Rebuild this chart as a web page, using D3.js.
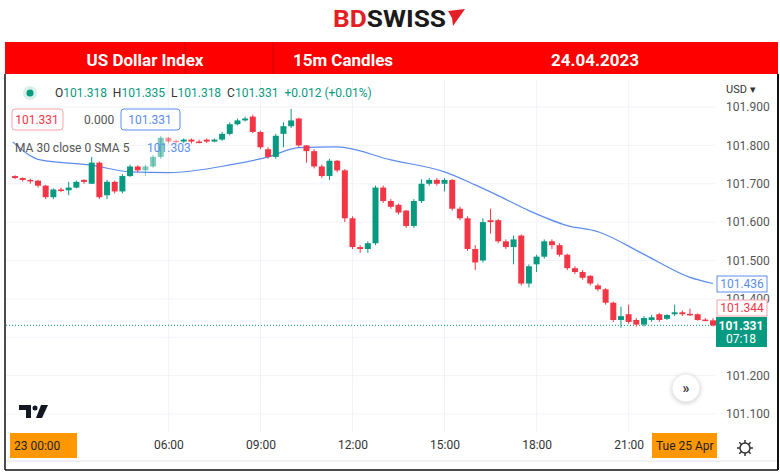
<!DOCTYPE html>
<html>
<head>
<meta charset="utf-8">
<script src="https://cdn.jsdelivr.net/npm/d3@7"></script>
<style>
body { margin: 0; background: #fff; }
text { font-family: Roboto, "Noto Sans", sans-serif; }
</style>
</head>
<body>
<svg id="chart" width="780" height="475"></svg>
<script>
// candle opens / closes (15m, starting 01:00)
var opens = [101.72,101.715,101.71,101.708,101.695,101.665,101.685,101.683,101.69,101.71,
  101.70,101.755,101.67,101.705,101.68,101.72,101.745,101.735,101.745,101.77,
  101.82,101.812,101.81,101.815,101.81,101.815,101.81,101.815,101.83,101.855,
  101.865,101.875,101.835,101.79,101.77,101.83,101.85,101.87,101.80,101.785,
  101.745,101.72,101.76,101.735,101.61,101.535,101.53,101.545,101.69,101.655,
  101.645,101.63,101.59,101.655,101.70,101.71,101.70,101.71,101.635,101.61,
  101.53,101.50,101.605,101.605,101.55,101.535,101.565,101.44,101.49,101.51,
  101.55,101.54,101.515,101.48,101.47,101.46,101.435,101.425,101.39,101.345,
  101.36,101.345,101.333,101.345,101.36,101.348,101.36,101.365,101.361,101.36,
  101.346,101.344];
var closes = [101.715,101.71,101.708,101.695,101.665,101.685,101.683,101.69,101.705,101.705,
  101.755,101.665,101.705,101.68,101.72,101.745,101.735,101.745,101.77,101.82,
  101.81,101.81,101.815,101.81,101.809,101.81,101.815,101.83,101.855,101.865,
  101.87,101.835,101.795,101.77,101.825,101.85,101.865,101.80,101.785,101.745,
  101.72,101.76,101.735,101.61,101.535,101.53,101.545,101.69,101.655,101.64,
  101.625,101.59,101.655,101.70,101.71,101.70,101.71,101.635,101.61,101.53,
  101.495,101.60,101.60,101.55,101.535,101.555,101.44,101.485,101.51,101.55,
  101.54,101.515,101.48,101.47,101.455,101.44,101.425,101.39,101.345,101.355,
  101.34,101.333,101.35,101.352,101.345,101.358,101.365,101.36,101.36,101.345,
  101.345,101.331];
var highs = [101.722,101.717,101.713,101.71,101.697,101.688,101.69,101.705,101.708,101.712,
  101.77,101.758,101.71,101.708,101.725,101.75,101.748,101.75,101.775,101.825,
  101.822,101.815,101.818,101.818,101.815,101.818,101.818,101.835,101.86,101.87,
  101.875,101.88,101.838,101.795,101.83,101.86,101.895,101.872,101.80,101.79,
  101.75,101.765,101.762,101.738,101.615,101.54,101.55,101.695,101.695,101.66,
  101.648,101.632,101.66,101.712,101.715,101.715,101.715,101.712,101.64,101.615,
  101.54,101.61,101.635,101.608,101.555,101.565,101.568,101.49,101.515,101.555,
  101.555,101.545,101.518,101.485,101.475,101.462,101.44,101.428,101.393,101.38,
  101.385,101.35,101.355,101.358,101.363,101.36,101.385,101.37,101.375,101.362,
  101.35,101.35];
var lows = [101.712,101.706,101.70,101.69,101.66,101.66,101.678,101.67,101.688,101.70,
  101.70,101.66,101.66,101.675,101.675,101.718,101.73,101.72,101.742,101.765,
  101.805,101.805,101.806,101.805,101.805,101.806,101.808,101.812,101.826,101.852,
  101.862,101.832,101.79,101.765,101.765,101.795,101.845,101.795,101.755,101.74,
  101.715,101.71,101.73,101.60,101.53,101.52,101.52,101.54,101.65,101.635,
  101.62,101.585,101.585,101.65,101.695,101.695,101.68,101.63,101.605,101.525,
  101.475,101.495,101.57,101.545,101.53,101.49,101.435,101.43,101.47,101.505,
  101.53,101.51,101.475,101.465,101.45,101.435,101.42,101.385,101.34,101.325,
  101.335,101.328,101.328,101.34,101.34,101.345,101.355,101.355,101.355,101.343,
  101.343,101.328];
// MA 30 read at candle positions
var maIdx = [-0.3,3.3,9.8,15,20,28,33,37,42,49,56,60,63,67,72,76,82,88,91];
var maVal = [101.809,101.762,101.749,101.731,101.729,101.749,101.770,101.794,101.796,101.762,
  101.731,101.697,101.669,101.630,101.591,101.575,101.516,101.456,101.440];
var priceTicks = [101.1,101.2,101.4,101.5,101.6,101.7,101.8,101.9];
var timeTicks = [20,32,44,56,68,80];
var timeLabels = ["06:00","09:00","12:00","15:00","18:00","21:00"];

var up = "#089981", down = "#f23645", maColor = "#5b8def";
var svg = d3.select("#chart");

var x = d3.scaleLinear().domain([0, 91]).range([15, 713]);
var y = d3.scaleLinear().domain([101.1, 101.9]).range([414, 107]);

// logo
var logo = svg.append("text").attr("x", 333).attr("y", 27).attr("font-size", 23).attr("font-weight", "bold")
  .attr("textLength", 113).attr("lengthAdjust", "spacingAndGlyphs");
logo.append("tspan").attr("fill", "#e31e24").text("BD");
logo.append("tspan").attr("fill", "#1a1a1a").text("SWISS");
svg.append("path").attr("d", "M448,11 L465,9 L453,26 L452,18 Z").attr("fill", "#e31e24");

// header bar
svg.append("rect").attr("x", 5).attr("y", 42).attr("width", 773).attr("height", 32).attr("fill", "#ff0000");
[185, 273].forEach(function (d) {
  svg.append("line").attr("x1", d).attr("x2", d).attr("y1", 42).attr("y2", 74).attr("stroke", "#d00000");
});
[["US Dollar Index", 145], ["15m Candles", 343], ["24.04.2023", 595]].forEach(function (d) {
  svg.append("text").attr("x", d[1]).attr("y", 66).attr("text-anchor", "middle")
    .attr("fill", "#fff").attr("font-size", 17).attr("font-weight", "bold").text(d[0]);
});

// panel borders
svg.append("line").attr("x1", 778).attr("x2", 778).attr("y1", 74).attr("y2", 470).attr("stroke", "#111").attr("stroke-width", 2);
svg.append("line").attr("x1", 5).attr("x2", 5).attr("y1", 74).attr("y2", 470).attr("stroke", "#111").attr("stroke-width", 1.5);
svg.append("line").attr("x1", 5).attr("x2", 778).attr("y1", 470).attr("y2", 470).attr("stroke", "#111").attr("stroke-width", 1.5);

// grid
svg.append("g").selectAll("line").data(priceTicks.concat([101.3])).join("line")
  .attr("x1", 6).attr("x2", 715).attr("y1", function (d) { return y(d); }).attr("y2", function (d) { return y(d); })
  .attr("stroke", "#f0f3fa");
svg.append("g").selectAll("line").data(timeTicks).join("line")
  .attr("x1", function (d) { return x(d); }).attr("x2", function (d) { return x(d); })
  .attr("y1", 80).attr("y2", 432).attr("stroke", "#f0f3fa");

// right axis
var yAxis = d3.axisRight(y).tickValues(priceTicks).tickFormat(d3.format(".3f")).tickSize(0).tickPadding(0);
var ya = svg.append("g").attr("transform", "translate(726,0)").call(yAxis);
ya.select(".domain").remove();
ya.selectAll("text").attr("font-size", 12).attr("fill", "#555");
svg.append("text").attr("x", 726).attr("y", 93).attr("font-size", 11).attr("fill", "#333").text("USD ▾");

// bottom axis
var xAxis = d3.axisBottom(x).tickValues(timeTicks).tickFormat(function (d, i) { return timeLabels[i]; }).tickSize(0).tickPadding(0);
var xa = svg.append("g").attr("transform", "translate(0,440)").call(xAxis);
xa.select(".domain").remove();
xa.selectAll("text").attr("font-size", 12).attr("fill", "#333");
svg.append("line").attr("x1", 6).attr("x2", 777).attr("y1", 461).attr("y2", 461).attr("stroke", "#e0e3eb");

// current price dotted line
svg.append("line").attr("x1", 6).attr("x2", 715).attr("y1", y(101.331)).attr("y2", y(101.331))
  .attr("stroke", up).attr("stroke-dasharray", "1,2");

// MA line
svg.append("path").datum(d3.range(maIdx.length))
  .attr("fill", "none").attr("stroke", maColor).attr("stroke-width", 1.2)
  .attr("d", d3.line().x(function (i) { return x(maIdx[i]); }).y(function (i) { return y(maVal[i]); }).curve(d3.curveMonotoneX));

// candles
var idx = d3.range(closes.length);
var cg = svg.append("g");
cg.selectAll("line").data(idx).join("line")
  .attr("x1", function (i) { return x(i); }).attr("x2", function (i) { return x(i); })
  .attr("y1", function (i) { return y(highs[i]); }).attr("y2", function (i) { return y(lows[i]); })
  .attr("stroke", function (i) { return closes[i] >= opens[i] ? up : down; })
  .attr("opacity", function (i) { return i >= 17 && i <= 21 ? 0.5 : 1; });
cg.selectAll("rect").data(idx).join("rect")
  .attr("x", function (i) { return x(i) - 3; }).attr("width", 6)
  .attr("y", function (i) { return y(Math.max(opens[i], closes[i])); })
  .attr("height", function (i) { return Math.max(1.5, Math.abs(y(opens[i]) - y(closes[i]))); })
  .attr("fill", function (i) { return closes[i] >= opens[i] ? up : down; })
  .attr("opacity", function (i) { return i >= 17 && i <= 21 ? 0.5 : 1; });

// legend
svg.append("circle").attr("cx", 30).attr("cy", 93).attr("r", 7).attr("fill", "#d6efe9");
svg.append("circle").attr("cx", 30).attr("cy", 93).attr("r", 3.5).attr("fill", up);
var lg = svg.append("text").attr("x", 55).attr("y", 97).attr("font-size", 12);
[["O", "#333"], ["101.318  ", up], ["H", "#333"], ["101.335  ", up], ["L", "#333"], ["101.318  ", up],
 ["C", "#333"], ["101.331  ", up], ["+0.012 (+0.01%)", up]].forEach(function (d) {
  lg.append("tspan").attr("fill", d[1]).attr("xml:space", "preserve").text(d[0]);
});
svg.append("rect").attr("x", 12).attr("y", 109).attr("width", 51).attr("height", 21).attr("rx", 3)
  .attr("fill", "#fff").attr("stroke", "#f7a3aa");
svg.append("text").attr("x", 37).attr("y", 124).attr("text-anchor", "middle").attr("font-size", 12).attr("fill", down).text("101.331");
svg.append("text").attr("x", 84).attr("y", 124).attr("font-size", 12).attr("fill", "#555").text("0.000");
svg.append("rect").attr("x", 121).attr("y", 109).attr("width", 59).attr("height", 21).attr("rx", 3)
  .attr("fill", "#fff").attr("stroke", maColor);
svg.append("text").attr("x", 150).attr("y", 124).attr("text-anchor", "middle").attr("font-size", 12).attr("fill", maColor).text("101.331");
svg.append("text").attr("x", 15).attr("y", 152).attr("font-size", 12).attr("fill", "#555").text("MA 30 close 0 SMA 5");
svg.append("text").attr("x", 147).attr("y", 152).attr("font-size", 12).attr("fill", maColor).text("101.303");

// price labels
svg.append("rect").attr("x", 717).attr("y", 276).attr("width", 50).attr("height", 16).attr("fill", "#fff").attr("stroke", maColor);
svg.append("text").attr("x", 742).attr("y", 288).attr("text-anchor", "middle").attr("font-size", 12).attr("fill", maColor).text("101.436");
svg.append("rect").attr("x", 717).attr("y", 300).attr("width", 50).attr("height", 16).attr("fill", "#fff").attr("stroke", "#f7a3aa");
svg.append("text").attr("x", 742).attr("y", 312).attr("text-anchor", "middle").attr("font-size", 12).attr("fill", down).text("101.344");
svg.append("rect").attr("x", 716).attr("y", 317).attr("width", 51).attr("height", 30).attr("fill", up);
svg.append("text").attr("x", 741).attr("y", 330).attr("text-anchor", "middle").attr("font-size", 12).attr("font-weight", "bold").attr("fill", "#fff").text("101.331");
svg.append("text").attr("x", 741).attr("y", 343).attr("text-anchor", "middle").attr("font-size", 12).attr("fill", "#fff").text("07:18");

// orange date labels
svg.append("rect").attr("x", 10).attr("y", 433).attr("width", 67).attr("height", 25).attr("fill", "#ff9800");
svg.append("text").attr("x", 14).attr("y", 450).attr("font-size", 12).attr("fill", "#222").text("23   00:00");
svg.append("rect").attr("x", 652).attr("y", 433).attr("width", 65).attr("height", 25).attr("fill", "#ff9800");
svg.append("text").attr("x", 656).attr("y", 450).attr("font-size", 12).attr("fill", "#222").text("Tue 25 Apr");

// scroll button
svg.append("circle").attr("cx", 686).attr("cy", 388).attr("r", 14).attr("fill", "#fff")
  .attr("stroke", "#e8e8e8").style("filter", "drop-shadow(0 1px 2px rgba(0,0,0,0.2))");
svg.append("text").attr("x", 686).attr("y", 393).attr("text-anchor", "middle").attr("font-size", 14).attr("font-weight", "bold").attr("fill", "#333").text("»");

// gear
svg.append("circle").attr("cx", 745).attr("cy", 448).attr("r", 5).attr("fill", "none").attr("stroke", "#333").attr("stroke-width", 1.5);
d3.range(8).forEach(function (k) {
  var a = k * Math.PI / 4;
  svg.append("line").attr("x1", 745 + 5 * Math.cos(a)).attr("y1", 448 + 5 * Math.sin(a))
    .attr("x2", 745 + 8 * Math.cos(a)).attr("y2", 448 + 8 * Math.sin(a)).attr("stroke", "#333").attr("stroke-width", 1.5);
});

// TV logo
svg.append("path").attr("d", "M19,405 H31 V418 H26 V410 H19 Z").attr("fill", "#131722");
svg.append("circle").attr("cx", 35).attr("cy", 408).attr("r", 2.5).attr("fill", "#131722");
svg.append("path").attr("d", "M41,405 H48 L42,418 H36 Z").attr("fill", "#131722");
</script>
</body>
</html>
